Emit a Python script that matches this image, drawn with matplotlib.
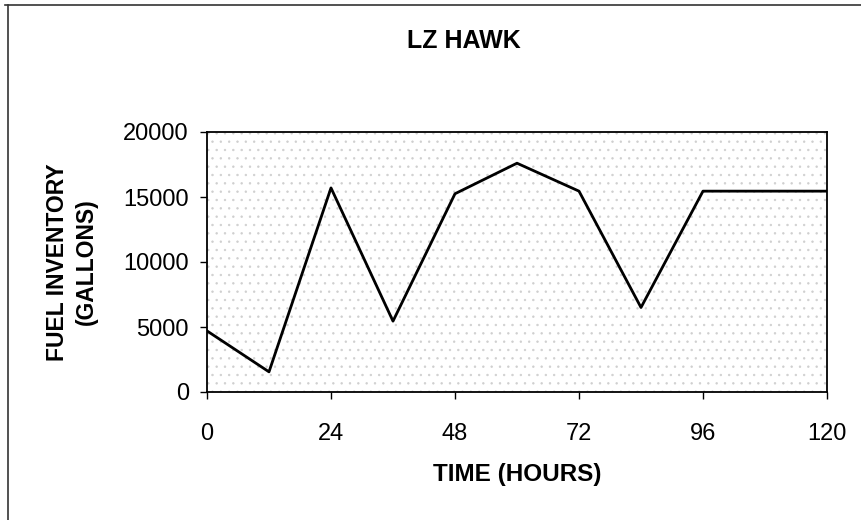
import matplotlib
matplotlib.use("Agg")
import matplotlib.pyplot as plt
from matplotlib.lines import Line2D

plt.rcParams['font.family'] = ['Liberation Sans', 'DejaVu Sans']
plt.rcParams['hatch.linewidth'] = 0.5

# fuel on hand at LZ Hawk, sampled every 12 hours
hours = [0, 12, 24, 36, 48, 60, 72, 84, 96, 108, 120]
gallons = [4700, 1550, 15700, 5450, 15250, 17600, 15450, 6500, 15450, 15450, 15450]
xticks = [0, 24, 48, 72, 96, 120]
yticks = [0, 5000, 10000, 15000, 20000]

fig = plt.figure(figsize=(8.61, 5.20), dpi=100)
ax = fig.add_axes([207 / 861, 1 - 392 / 520, 620 / 861, 260 / 520])

# speckled grey fill behind the line
ax.set_facecolor('white')
ax.fill_between([0, 120], 0, 20000, facecolor='none', edgecolor='#cfcfcf',
                hatch='..', linewidth=0, zorder=0)

ax.plot(hours, gallons, color='black', linewidth=2, zorder=3)

ax.set_xlim(0, 120)
ax.set_ylim(0, 20000)
ax.set_xticks(xticks)
ax.set_yticks(yticks)
ax.tick_params(axis='x', direction='out', length=5, width=1, pad=17, labelsize=17)
ax.tick_params(axis='y', direction='out', length=5, width=1, pad=8, labelsize=17)
for s in ax.spines.values():
    s.set_linewidth(1.3)

ax.set_xlabel('TIME (HOURS)', fontsize=17.5, fontweight='bold', labelpad=13)
ax.set_ylabel('FUEL INVENTORY\n(GALLONS)', fontsize=16.5, fontweight='bold',
              labelpad=18, linespacing=1.35)
fig.text(0.539, 0.922, 'LZ HAWK', ha='center', va='center', fontsize=18, fontweight='bold')

# outer frame (top and left edges)
fig.add_artist(Line2D([5 / 861, 1], [1 - 5 / 520, 1 - 5 / 520], color='#333333', lw=1.2,
                      transform=fig.transFigure))
fig.add_artist(Line2D([8 / 861, 8 / 861], [0, 1 - 5 / 520], color='#333333', lw=1.2,
                      transform=fig.transFigure))

fig.savefig('out.png', dpi=100)
